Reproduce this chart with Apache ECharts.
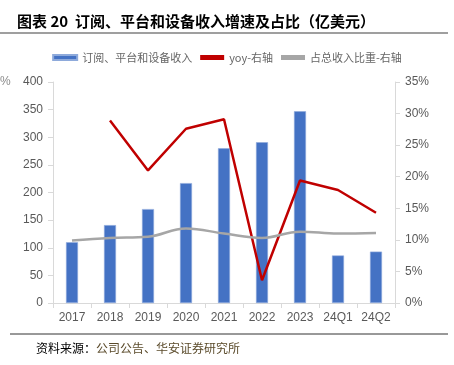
<!DOCTYPE html>
<html>
<head>
<meta charset="utf-8">
<script src="https://cdn.jsdelivr.net/npm/echarts@6/dist/echarts.min.js"></script>
<style>
    html, body { margin: 0; padding: 0; background: #fff; }
    #chart { width: 454px; height: 365px; }
</style>
</head>
<body>
<div id="chart"></div>
<script>
    // 数据
    var categories = ['2017', '2018', '2019', '2020', '2021', '2022', '2023', '24Q1', '24Q2'];
    var revenue = [110, 141, 170, 217, 280, 291, 347, 86, 93];
    var yoy = [null, 28.9, 21.0, 27.6, 29.1, 3.6, 19.4, 17.9, 14.3];
    var share = [9.9, 10.3, 10.5, 11.8, 11.0, 10.3, 11.3, 11.0, 11.1];

    var chart = echarts.init(document.getElementById('chart'));
    var font = '"Liberation Sans", Arial, sans-serif';
    var cjk = '"Noto Sans CJK SC", sans-serif';

    var option = {
        animation: false,
        title: {
            text: '图表 20  订阅、平台和设备收入增速及占比（亿美元）',
            left: 12,
            top: 9,
            textStyle: { fontFamily: cjk, fontSize: 15, fontWeight: 'bold', color: '#000', letterSpacing: 1 }
        },
        graphic: [
            { type: 'line', shape: { x1: 0, y1: 33, x2: 448, y2: 33 }, style: { stroke: '#7f7f7f', lineWidth: 1.5 } },
            { type: 'line', shape: { x1: 10, y1: 334, x2: 448, y2: 334 }, style: { stroke: '#333', lineWidth: 1 } },
            { type: 'text', left: 0, top: 76, style: { text: '%', font: '12px ' + font, fill: '#8c8c8c' } },
            {
                type: 'text', left: 36, top: 342,
                style: {
                    text: '{a|资料来源：}{b|公司公告、华安证券研究所}',
                    rich: {
                        a: { fontFamily: cjk, fontSize: 12, fill: '#000', color: '#000', letterSpacing: 1 },
                        b: { fontFamily: cjk, fontSize: 12, fill: '#5a4a2a', color: '#5a4a2a', letterSpacing: 1 }
                    }
                }
            }
        ],
        legend: {
            top: 47,
            left: 'center',
            itemGap: 8,
            itemWidth: 24,
            itemHeight: 5,
            textStyle: { fontFamily: cjk, fontSize: 11, color: '#666' },
            data: [
                { name: '订阅、平台和设备收入', icon: 'rect', itemStyle: { color: '#4472C4' } },
                { name: 'yoy-右轴', icon: 'rect', itemStyle: { color: '#C00000' } },
                { name: '占总收入比重-右轴', icon: 'rect', itemStyle: { color: '#A6A6A6' } }
            ]
        },
        grid: { left: 53, right: 59, top: 82, bottom: 62 },
        xAxis: {
            type: 'category',
            data: categories,
            axisLine: { lineStyle: { color: '#d9d9d9' } },
            axisTick: { show: true, lineStyle: { color: '#d9d9d9' } },
            axisLabel: { fontFamily: font, fontSize: 12, color: '#595959', margin: 9, interval: 0 }
        },
        yAxis: [{
            type: 'value',
            min: 0,
            max: 400,
            interval: 50,
            axisLine: { show: true, lineStyle: { color: '#d9d9d9' } },
            axisTick: { show: true, lineStyle: { color: '#d9d9d9' } },
            splitLine: { show: false },
            axisLabel: { fontFamily: font, fontSize: 12, color: '#595959', margin: 10 }
        }, {
            type: 'value',
            min: 0,
            max: 35,
            interval: 5,
            axisLine: { show: true, lineStyle: { color: '#d9d9d9' } },
            axisTick: { show: true, lineStyle: { color: '#d9d9d9' } },
            splitLine: { show: false },
            axisLabel: { fontFamily: font, fontSize: 12, color: '#595959', margin: 10, formatter: '{value}%' }
        }],
        series: [{
            name: '订阅、平台和设备收入',
            type: 'bar',
            barWidth: 12,
            itemStyle: { color: '#4472C4', borderColor: '#8eaadb', borderWidth: 0.6 },
            data: revenue
        }, {
            name: 'yoy-右轴',
            type: 'line',
            yAxisIndex: 1,
            symbol: 'none',
            lineStyle: { color: '#C00000', width: 2.5 },
            itemStyle: { color: '#C00000' },
            data: yoy
        }, {
            name: '占总收入比重-右轴',
            type: 'line',
            yAxisIndex: 1,
            symbol: 'none',
            smooth: 0.4,
            lineStyle: { color: '#A6A6A6', width: 2.5 },
            itemStyle: { color: '#A6A6A6' },
            data: share
        }]
    };
    chart.setOption(option);
</script>
</body>
</html>
